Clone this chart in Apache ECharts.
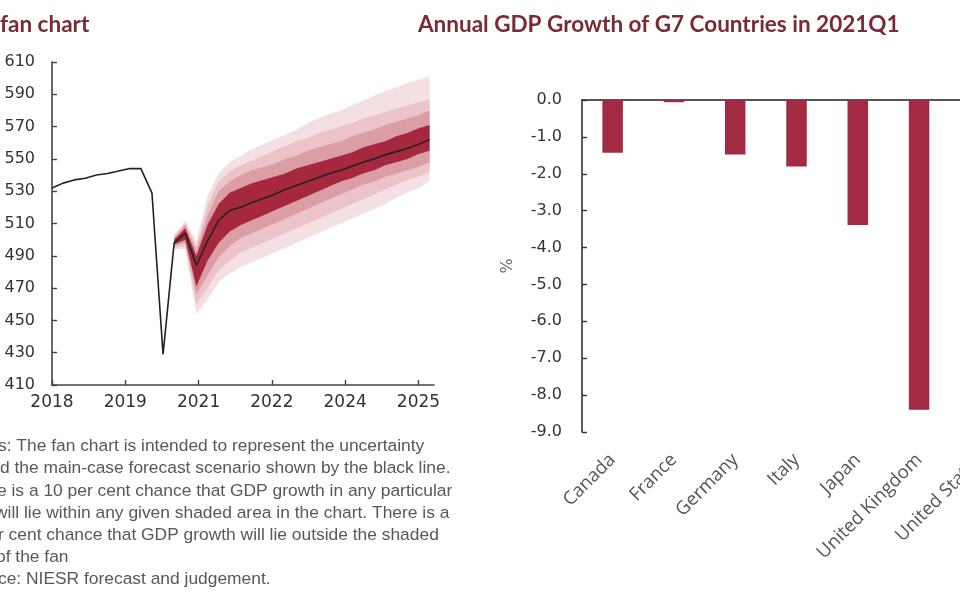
<!DOCTYPE html>
<html><head><meta charset="utf-8">
<script src="https://cdn.jsdelivr.net/npm/echarts@6/dist/echarts.min.js"></script>
<style>html,body{margin:0;padding:0;background:#fff}#c{width:960px;height:600px}</style>
</head><body><div id="c"></div>
<script>
// ---------- Left chart: GDP fan chart ----------
const quarterIdx = [0,1,2,3,4,5,6,7,8,9,10,11,12,13,14,15,16,17,18,19,20,21,22,23,24,25,26,27,28,29,30,31,32,33,34];
const gdpLine = [532,535,537,538,540,541,542.5,544,544,529,429,498,504,484,499,512,518,520,523,525.5,528,531,533.5,536,538.5,541,543,545.5,548,550,552.5,554.5,556.5,559,562];
const fanIdx = [11,12,13,14,15,16,17,18,19,20,21,22,23,24,25,26,27,28,29,30,31,32,33,34];
const darkLo  = [497,500,471,487,498,505,509,512,515,518,521,524,527,530,533,536,538,541,543,546,548,550,553,555];
const darkHi  = [500,507,490,509,522,529,532,535,537,539,541,544,546,548,550,552,554,557,559,561,564,566,569,571];
const medLo   = [496,498,466,478,489,496,501,504,507,510,513,516,519,522,525,528,531,534,536,539,541,543,545,548];
const medHi   = [501,509,493,515,530,536,540,543,545,547,550,552,555,557,559,561,564,566,568,571,573,575,577,580];
const lightLo = [495,496,460,470,481,487,492,495,498,501,504,507,510,513,516,519,522,525,528,531,534,537,539,542];
const lightHi = [502,510,496,521,536,542,546,549,552,555,558,561,563,566,568,570,572,575,577,579,581,583,585,587];
const outerLo = [494,494,454,463,474,479,483,486,489,492,495,498,501,504,507,510,513,516,519,522,526,529,532,536];
const outerHi = [503,512,499,527,541,548,552,556,559,562,565,568,572,575,578,580,583,586,589,592,594,597,599,601];
const fanXTickValues = [0,6.6,13.2,19.8,26.4,33];
const fanXTickLabels = ['2018','2019','2021','2022','2024','2025'];
const fanYTickValues = [410,430,450,470,490,510,530,550,570,590,610];

// ---------- Right chart: G7 GDP growth ----------
const countries = ['Canada','France','Germany','Italy','Japan','United Kingdom','United States'];
const growth2021Q1 = [-1.43,-0.06,-1.48,-1.8,-3.39,-8.4,0.4];

// ---------- Texts ----------
const leftTitle = 'fan chart';
const rightTitle = 'Annual GDP Growth of G7 Countries in 2021Q1';
const noteLines = [
  's: The fan chart is intended to represent the uncertainty',
  'd the main-case forecast scenario shown by the black line.',
  'e is a 10 per cent chance that GDP growth in any particular',
  'will lie within any given shaded area in the chart. There is a',
  'r cent chance that GDP growth will lie outside the shaded',
  'of the fan',
  'ce: NIESR forecast and judgement.'
];
const noteX = [-2,0,-3,-5,-2,-4,-2];

const chart = echarts.init(document.getElementById('c'), null, {renderer:'canvas'});

function bandSeries(lo, hi, color, z){
  return {
    type:'custom', xAxisIndex:0, yAxisIndex:0, silent:true, z:z,
    data: fanIdx.map((x,k)=>[x, lo[k], hi[k]]),
    encode:{x:0, y:[1,2]},
    renderItem(params, api){
      if (params.dataIndex !== 0) return null;
      const pts = [];
      for (let k=0;k<fanIdx.length;k++) pts.push(api.coord([fanIdx[k], hi[k]]));
      for (let k=fanIdx.length-1;k>=0;k--) pts.push(api.coord([fanIdx[k], lo[k]]));
      return {type:'polygon', shape:{points:pts}, style:{fill:color}};
    }
  };
}

const axisTxt = {fontFamily:'DejaVu Sans', color:'#333'};

chart.setOption({
  backgroundColor:'#ffffff',
  animation:false,
  title:[
    {text:leftTitle, left:0, top:13, padding:0, textStyle:{fontFamily:'Lato', fontWeight:'bold', fontSize:22.5, color:'#7a2a35'}},
    {text:rightTitle, left:418, top:13, padding:0, textStyle:{fontFamily:'Lato', fontWeight:'bold', fontSize:22.5, color:'#7a2a35'}}
  ],
  grid:[
    {left:52, top:62, width:382, height:323, outerBoundsMode:'none', containLabel:false},
    {left:582, top:100, width:429, height:332, outerBoundsMode:'none', containLabel:false}
  ],
  xAxis:[
    {gridIndex:0, type:'value', min:0, max:34.4, interval:6.6,
     axisLine:{show:true, onZero:false, lineStyle:{color:'#444', width:1.6}},
     axisTick:{show:true, inside:true, length:5, customValues:fanXTickValues, lineStyle:{color:'#444', width:1.4}},
     axisLabel:Object.assign({fontSize:17, margin:9, customValues:fanXTickValues,
       formatter:(v)=>{const k=fanXTickValues.findIndex(t=>Math.abs(t-v)<0.01); return k>=0?fanXTickLabels[k]:'';}}, axisTxt),
     splitLine:{show:false}},
    {gridIndex:1, type:'category', data:countries, position:'bottom',
     axisLine:{show:false, onZero:false}, axisTick:{show:false},
     axisLabel:{rotate:45, fontFamily:'Open Sans', fontSize:18.5, color:'#555', margin:25, interval:0},
     splitLine:{show:false}},
    {gridIndex:1, type:'category', data:countries, position:'top',
     axisLine:{show:true, onZero:false, lineStyle:{color:'#555', width:2}}, axisTick:{show:false},
     axisLabel:{show:false}, splitLine:{show:false}}
  ],
  yAxis:[
    {gridIndex:0, type:'value', min:410, max:610, interval:20,
     axisLine:{show:true, lineStyle:{color:'#444', width:1.6}},
     axisTick:{show:true, inside:true, length:5, customValues:fanYTickValues, lineStyle:{color:'#444', width:1.4}},
     axisLabel:Object.assign({fontSize:16, margin:17, customValues:fanYTickValues}, axisTxt),
     splitLine:{show:false}},
    {gridIndex:1, type:'value', min:-9, max:0, interval:1,
     name:'%', nameLocation:'middle', nameGap:66, nameRotate:90,
     nameTextStyle:{fontFamily:'DejaVu Sans', fontSize:16, color:'#666'},
     axisLine:{show:true, lineStyle:{color:'#333', width:1.6}},
     axisTick:{show:true, inside:true, length:5, lineStyle:{color:'#333', width:1.4}},
     axisLabel:Object.assign({fontSize:16, margin:20, formatter:(v)=>v.toFixed(1)}, axisTxt),
     splitLine:{show:false}}
  ],
  series:[
    bandSeries(outerLo, outerHi, '#f4dfe2', 1),
    bandSeries(lightLo, lightHi, '#ebc3c8', 2),
    bandSeries(medLo, medHi, '#db9ea6', 3),
    bandSeries(darkLo, darkHi, '#a6283f', 4),
    {type:'line', xAxisIndex:0, yAxisIndex:0, z:5, silent:true,
     data: quarterIdx.map((x,i)=>[x, gdpLine[i]]),
     showSymbol:false, symbol:'none', lineStyle:{color:'#222', width:1.6}},
    {type:'bar', xAxisIndex:1, yAxisIndex:1, data:growth2021Q1, barWidth:20.5,
     itemStyle:{color:'#a32a43'}, silent:true}
  ],
  graphic: noteLines.map((t,k)=>({
    type:'text', left:noteX[k], top:438 + k*22.2, silent:true,
    style:{text:t, font:'17.4px "Liberation Sans"', fill:'#585858'}
  }))
});
</script></body></html>
